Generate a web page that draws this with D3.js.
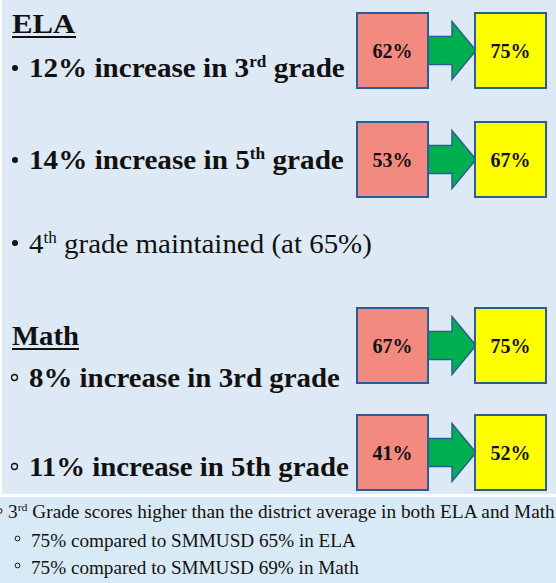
<!DOCTYPE html>
<html lang="en">
<head>
<meta charset="utf-8">
<title>ELA and Math gains</title>
<script src="https://d3js.org/d3.v7.min.js"></script>
<style>
  body { margin: 0; background: #fff; }
  svg { display: block; }
</style>
</head>
<body>
<div id="chart"></div>
<script>
// data
var rowSubject = ["ELA", "ELA", "Math", "Math"]
var rowIncrease = [12, 14, 8, 11]
var rowGrade = ["3", "5", "3", "5"]
var rowSuffix = ["rd", "th", "rd", "th"]
var beforeScores = [62, 53, 67, 41]
var afterScores = [75, 67, 75, 52]
var maintainedGrade = "4"
var maintainedScore = 65
var schoolScore3rd = 75
var districtScores = [65, 69]
var districtSubjects = ["ELA", "Math"]

var width = 556, height = 583
var serif = "'Liberation Serif', 'Times New Roman', Times, 'DejaVu Serif', serif"

var svg = d3.select("#chart").append("svg")
    .attr("width", width)
    .attr("height", height)
    .attr("font-family", serif)
    .style("font-family", serif)

// backgrounds: upper panel, white gap, lower panel
svg.append("rect").attr("x", 0).attr("y", 0).attr("width", width).attr("height", height).attr("fill", "#fff")
svg.append("rect").attr("x", 2).attr("y", 0).attr("width", width - 2).attr("height", 494).attr("fill", "#dde9f5")
svg.append("rect").attr("x", 0).attr("y", 497).attr("width", width).attr("height", height - 497).attr("fill", "#d8eaf5")

// layout
var rows = d3.range(rowSubject.length)
var boxTop = d3.scaleOrdinal().domain(rows).range([13, 122, 308, 415])
var lineBase = d3.scaleOrdinal().domain(rows).range([77, 169, 387, 476])
var lineEnd = d3.scaleOrdinal().domain(rows).range([345, 344, 340, 349])
var boxX = d3.scaleBand().domain(["before", "after"]).range([357, 546]).paddingInner(0.398)
var boxH = 75

// stretch a text so it spans x0..x1
function fit(t, x0, x1, y) {
    var w = t.node().getBBox().width
    t.attr("transform", "translate(" + x0 + "," + y + ") scale(" + ((x1 - x0) / w) + ",1)")
}

// headings
var headings = [{ name: "ELA", y: 33, x1: 76 }, { name: "Math", y: 345, x1: 79 }]
headings.forEach(function(h) {
    var t = svg.append("text").attr("font-size", 27).attr("font-weight", "bold").attr("fill", "#111").text(h.name)
    fit(t, 12, h.x1, h.y)
    svg.append("rect").attr("x", 12).attr("y", h.y + 3).attr("width", h.x1 - 12).attr("height", 2).attr("fill", "#111")
})

// bullet lines
rows.forEach(function(i) {
    var y = lineBase(i)
    var t = svg.append("text").attr("font-size", 27).attr("font-weight", "bold").attr("fill", "#111")
    if (rowSubject[i] == "ELA") {
        t.append("tspan").text(rowIncrease[i] + "% increase in " + rowGrade[i])
        t.append("tspan").attr("font-size", 16).attr("dy", -10).text(rowSuffix[i])
        t.append("tspan").attr("dy", 10).text(" grade")
        svg.append("circle").attr("cx", 15).attr("cy", y - 9).attr("r", 3).attr("fill", "#111")
    } else {
        t.text(rowIncrease[i] + "% increase in " + rowGrade[i] + rowSuffix[i] + " grade")
        svg.append("circle").attr("cx", 14.5).attr("cy", y - 9.5).attr("r", 3)
            .attr("fill", "none").attr("stroke", "#111").attr("stroke-width", 1.3)
    }
    fit(t, 29, lineEnd(i), y)
})

// maintained line
var m = svg.append("text").attr("font-size", 27).attr("fill", "#111")
m.append("tspan").text(maintainedGrade)
m.append("tspan").attr("font-size", 16).attr("dy", -10).text("th")
m.append("tspan").attr("dy", 10).text(" grade maintained (at " + maintainedScore + "%)")
fit(m, 29, 372, 253)
svg.append("circle").attr("cx", 15).attr("cy", 243).attr("r", 3).attr("fill", "#111")

// before / after boxes with arrow
var boxes = svg.append("g")
rows.forEach(function(i) {
    var y0 = boxTop(i)
    var cy = y0 + boxH / 2
    var xa = boxX("before") + boxX.bandwidth(), xh = xa + 24, xt = boxX("after") + 1
    boxes.append("path")
        .attr("d", "M" + xa + "," + (cy - 14) + "H" + xh + "V" + (cy - 29) + "L" + xt + "," + cy +
            "L" + xh + "," + (cy + 29) + "V" + (cy + 14) + "H" + xa + "Z")
        .attr("fill", "#00b050").attr("stroke", "#2a5d96").attr("stroke-width", 1.5)
    var pair = [{ k: "before", v: beforeScores[i], c: "#f38a7f" }, { k: "after", v: afterScores[i], c: "#ffff00" }]
    boxes.selectAll(null).data(pair).enter().append("rect")
        .attr("x", function(d) { return boxX(d.k) })
        .attr("y", y0)
        .attr("width", boxX.bandwidth())
        .attr("height", boxH)
        .attr("fill", function(d) { return d.c })
        .attr("stroke", "#2a5d96").attr("stroke-width", 2)
    boxes.selectAll(null).data(pair).enter().append("text")
        .attr("x", function(d) { return boxX(d.k) + boxX.bandwidth() / 2 })
        .attr("y", cy + 7)
        .attr("text-anchor", "middle")
        .attr("font-size", 20).attr("font-weight", "bold").attr("fill", "#111")
        .text(function(d) { return d.v + "%" })
})

// lower panel notes
var b1 = svg.append("text").attr("font-size", 18).attr("fill", "#111")
b1.append("tspan").text("3")
b1.append("tspan").attr("font-size", 11).attr("dy", -7).text("rd")
b1.append("tspan").attr("dy", 7).text(" Grade scores higher than the district average in both " + districtSubjects.join(" and "))
fit(b1, 8, 555, 518)
svg.append("circle").attr("cx", -0.5).attr("cy", 511).attr("r", 2.5)
    .attr("fill", "none").attr("stroke", "#111").attr("stroke-width", 1)

var noteEnd = [356, 359]
districtSubjects.forEach(function(s, j) {
    var y = 547 + j * 27
    var t = svg.append("text").attr("font-size", 18).attr("fill", "#111")
        .text(schoolScore3rd + "% compared to SMMUSD " + districtScores[j] + "% in " + s)
    fit(t, 31, noteEnd[j], y)
    svg.append("circle").attr("cx", 17.5).attr("cy", y - 8.5).attr("r", 2.4)
        .attr("fill", "none").attr("stroke", "#111").attr("stroke-width", 1)
})
</script>
</body>
</html>
